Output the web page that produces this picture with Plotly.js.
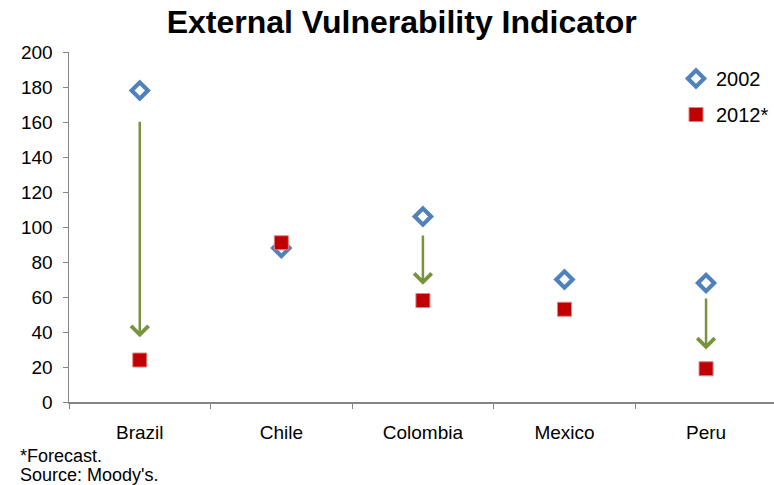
<!DOCTYPE html>
<html>
<head>
<meta charset="utf-8">
<script src="https://cdn.plot.ly/plotly-3.0.1.min.js"></script>
<style>
  html, body { margin: 0; padding: 0; background: #ffffff; }
  #chart { width: 774px; height: 485px; }
</style>
</head>
<body>
<div id="chart"></div>
<script>
// External vulnerability indicator by country, 2002 vs 2012 forecast
const countries = ["Brazil", "Chile", "Colombia", "Mexico", "Peru"];
const values2002 = [178, 88, 106, 70, 68];
const values2012 = [24, 91, 58, 53, 19];

// Downward arrows showing the improvement (start and tip values)
const arrowCountries = ["Brazil", "Colombia", "Peru"];
const arrowFrom = [161, 96, 60];
const arrowTo = [37, 67, 30];

const yTicks = [0, 20, 40, 60, 80, 100, 120, 140, 160, 180, 200];

const font = "Liberation Sans, Arial, sans-serif";
const axisGray = "#868686";

const traces = [
  {
    type: "scatter",
    mode: "markers",
    name: "2002",
    legendgroup: "a",
    x: countries,
    y: values2002,
    marker: {
      symbol: "diamond-open",
      size: 12.5,
      color: "#4F81BD",
      line: { width: 4.2, color: "#4F81BD" }
    },
    cliponaxis: false
  },
  {
    type: "scatter",
    mode: "markers",
    name: "2012*",
    legendgroup: "b",
    x: countries,
    y: values2012,
    marker: {
      symbol: "square",
      size: 14,
      color: "#C00000",
      line: { width: 1, color: "#E08080" }
    },
    cliponaxis: false
  }
];

const annotations = arrowCountries.map((c, i) => ({
  x: c, y: arrowTo[i],
  ax: c, ay: arrowFrom[i],
  xref: "x", yref: "y", axref: "x", ayref: "y",
  text: "",
  showarrow: true,
  arrowhead: 4,
  arrowsize: 1.35,
  arrowwidth: 2.5,
  arrowcolor: "#77933C"
}));

const notes = ["*Forecast.", "Source: Moody's."];
notes.forEach((t, i) => annotations.push({
  xref: "paper", yref: "paper", x: 0, y: 0,
  xshift: -51, yshift: -42 - 19 * i,
  xanchor: "left", yanchor: "top", align: "left",
  text: t,
  showarrow: false,
  font: { family: font, size: 18, color: "#000000" }
}));

const layout = {
  width: 774,
  height: 485,
  margin: { l: 69, r: 0, t: 52, b: 83 },
  paper_bgcolor: "#ffffff",
  plot_bgcolor: "#ffffff",
  font: { family: font, size: 19, color: "#000000" },
  title: {
    text: "<b>External Vulnerability Indicator</b>",
    font: { family: font, size: 32, color: "#000000" },
    x: 0.519, xref: "container", xanchor: "center",
    y: 0.955, yref: "container", yanchor: "middle"
  },
  showlegend: true,
  legend: {
    x: 1, y: 0.98, xanchor: "right", yanchor: "top",
    font: { family: font, size: 20, color: "#000000" },
    bgcolor: "rgba(0,0,0,0)",
    traceorder: "grouped",
    tracegroupgap: 7,
    itemwidth: 30
  },
  xaxis: {
    type: "category",
    range: [-0.5, 4.48],
    showgrid: false,
    zeroline: false,
    showline: true,
    linecolor: axisGray,
    linewidth: 1.5,
    ticks: "outside",
    ticklen: 5,
    tickcolor: axisGray,
    tickson: "boundaries",
    tickfont: { family: font, size: 19, color: "#000000" },
    ticklabelstandoff: 13,
    fixedrange: true
  },
  yaxis: {
    range: [0, 200],
    tickvals: yTicks,
    showgrid: false,
    zeroline: false,
    showline: true,
    linecolor: axisGray,
    linewidth: 1.5,
    ticks: "outside",
    ticklen: 5,
    tickcolor: axisGray,
    tickfont: { family: font, size: 19, color: "#000000" },
    ticklabelstandoff: 6,
    fixedrange: true
  },
  annotations: annotations
};

Plotly.newPlot("chart", traces, layout, { displayModeBar: false, staticPlot: true });
</script>
</body>
</html>
